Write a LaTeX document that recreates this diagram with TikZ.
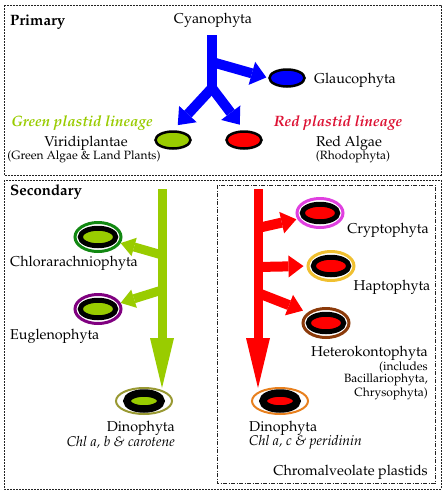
\documentclass[tikz,border=0pt]{standalone}
\usepackage[T1]{fontenc}
\usepackage{mathpazo}
\usetikzlibrary{shapes.geometric,arrows.meta}

\definecolor{leafgreen}{HTML}{99CC00}
\definecolor{lineagered}{HTML}{DD1133}
\definecolor{chlorring}{HTML}{118811}
\definecolor{euglring}{HTML}{800080}
\definecolor{dinogring}{HTML}{999933}
\definecolor{cryptring}{HTML}{E040E0}
\definecolor{haptring}{HTML}{F0C030}
\definecolor{hetring}{HTML}{8B3A0A}
\definecolor{dinorring}{HTML}{E8801E}
\definecolor{boxgray}{HTML}{222222}

\begin{document}
\begin{tikzpicture}[x=1pt,y=-1pt]
\tikzstyle{lbl}=[font=\fontsize{14.3}{16}\selectfont, inner sep=0]
\tikzstyle{small}=[font=\fontsize{12}{13}\selectfont, inner sep=0]
\tikzstyle{chl}=[font=\itshape\fontsize{14}{15}\selectfont, inner sep=0]
\tikzstyle{head}=[font=\bfseries\fontsize{15}{16}\selectfont, inner sep=0]
\tikzstyle{lineage}=[font=\bfseries\itshape\fontsize{15}{16}\selectfont, inner sep=0]
\tikzstyle{plastid}=[ellipse, draw=black, line width=2.5pt, minimum width=35pt, minimum height=17pt, inner sep=0]
\tikzstyle{ringout}=[ellipse, line width=3pt, minimum width=46pt, minimum height=29pt, inner sep=0]
\tikzstyle{ringin}=[ellipse, draw=black, line width=5pt, minimum width=35.5pt, minimum height=17.5pt, inner sep=0]
\tikzstyle{dinoout}=[ellipse, line width=2pt, minimum width=56pt, minimum height=26pt, inner sep=0]
\tikzstyle{dinoin}=[ellipse, draw=black, line width=7.5pt, minimum width=34pt, minimum height=16pt, inner sep=0]
\tikzstyle{trunk}=[line width=9pt, -{Triangle[length=50pt,width=24pt,line width=0pt]}]
\tikzstyle{blueline}=[blue, line width=10pt, -{Triangle[length=15pt,width=24pt,line width=0pt]}]
\tikzstyle{greenbranch}=[leafgreen, line width=9pt, -{Triangle[length=14pt,width=19pt,line width=0pt]}]
\tikzstyle{redbranch}=[red, line width=10pt, -{Triangle[length=15pt,width=22pt,line width=0pt]}]
\tikzstyle{box}=[boxgray, line width=0.6pt, dash pattern=on 2pt off 1pt]

\useasboundingbox[fill=white] (0,0) rectangle (446,496);

% frames
\draw[box] (4,5) rectangle (441,175);
\draw[box] (4,180) rectangle (441,489);
\draw[box, dash pattern=on 4pt off 1.5pt on 1pt off 1.5pt] (217,185) rectangle (435,483);

% primary
\draw (10,22) node[head, anchor=west] (prim) {Primary};
\draw (213,20) node[lbl] (cyano) {Cyanophyta};
\draw (287,78) node[plastid, fill=blue] (glau) {};
\draw (355,80) node[lbl] (glaulbl) {Glaucophyta};
\draw (173,140) node[plastid, fill=leafgreen] (viri) {};
\draw (244,140) node[plastid, fill=red] (rhod) {};
\draw (82,123) node[lineage, leafgreen] (greenlin) {Green plastid lineage};
\draw (86,143) node[lbl] (virilbl) {Viridiplantae};
\draw (84,157) node[small] (viriinc) {(Green Algae \& Land Plants)};
\draw (338,123) node[lineage, lineagered] (redlin) {Red plastid lineage};
\draw (349,143) node[lbl] (rhodlbl) {Red Algae};
\draw (353,157) node[small] (rhodinc) {(Rhodophyta)};

\coordinate (cyanotop) at (212,35);
\coordinate (cyanoend) at (212,95);
\coordinate (glsrc) at (212,62);
\coordinate (split) at (212,88);
\draw[blue, line width=10pt] (cyanotop) -- (cyanoend);
\draw[blueline, shorten >=2pt] (glsrc) -- (glau.west);
\draw[blueline, shorten >=7pt] (split) -- (viri.north);
\draw[blueline, shorten >=7pt] (split) -- (rhod.north);

% secondary, green side
\draw (10,192) node[head, anchor=west] (second) {Secondary};
\draw (98,237) node[ringout, draw=chlorring] (chlor) {};
\draw (98,237) node[ringin, fill=leafgreen] (chlorin) {};
\draw (10,263) node[lbl, anchor=west] (chlorlbl) {Chlorarachniophyta};
\draw (98,309) node[ringout, draw=euglring] (eugl) {};
\draw (98,309) node[ringin, fill=leafgreen] (euglin) {};
\draw (10,336) node[lbl, anchor=west] (eugllbl) {Euglenophyta};
\draw (144,401) node[dinoout, draw=dinogring] (dinog) {};
\draw (144,401) node[dinoin, fill=leafgreen] (dinogin) {};
\draw (175,428) node[lbl, anchor=east] (dinoglbl) {Dinophyta};
\draw (175,442) node[chl, anchor=east] (dinogchl) {Chl a, b \& carotene};

\coordinate (gtop) at (162,189);
\coordinate (gtip) at (162,388);
\coordinate (gb1) at (162,255);
\coordinate (gb2) at (162,290);
\draw[trunk, leafgreen] (gtop) -- (gtip);
\draw[greenbranch] (gb1) -- (chlor.-15);
\draw[greenbranch] (gb2) -- (eugl.15);

% secondary, red side
\draw (320,213) node[ringout, draw=cryptring] (crypt) {};
\draw (320,213) node[ringin, fill=red] (cryptin) {};
\draw (388,230) node[lbl] (cryptlbl) {Cryptophyta};
\draw (331,266) node[ringout, draw=haptring] (hapt) {};
\draw (331,266) node[ringin, fill=red] (haptin) {};
\draw (392,287) node[lbl] (haptlbl) {Haptophyta};
\draw (326,323) node[ringout, draw=hetring] (het) {};
\draw (326,323) node[ringin, fill=red] (hetin) {};
\draw (428,353) node[lbl, anchor=east] (hetlbl) {Heterokontophyta};
\draw (428,367) node[small, anchor=east] (hetinc) {(includes};
\draw (428,380) node[small, anchor=east] (hetbac) {Bacillariophyta,};
\draw (428,394) node[small, anchor=east] (hetchr) {Chrysophyta)};
\draw (280,401) node[dinoout, draw=dinorring] (dinor) {};
\draw (280,401) node[dinoin, fill=red] (dinorin) {};
\draw (249,428) node[lbl, anchor=west] (dinorlbl) {Dinophyta};
\draw (249,442) node[chl, anchor=west] (dinorchl) {Chl a, c \& peridinin};
\draw (428,472) node[lbl, anchor=east] (chromlbl) {Chromalveolate plastids};

\coordinate (rtop) at (258,189);
\coordinate (rtip) at (258,388);
\coordinate (rb1) at (258,228);
\coordinate (rb2) at (258,267);
\coordinate (rb3) at (258,293);
\draw[trunk, red] (rtop) -- (rtip);
\draw[redbranch, shorten >=1pt] (rb1) -- (crypt.-165);
\draw[redbranch, shorten >=3pt] (rb2) -- (hapt.west);
\draw[redbranch, shorten >=5pt] (rb3) -- (het.150);
\end{tikzpicture}
\end{document}
